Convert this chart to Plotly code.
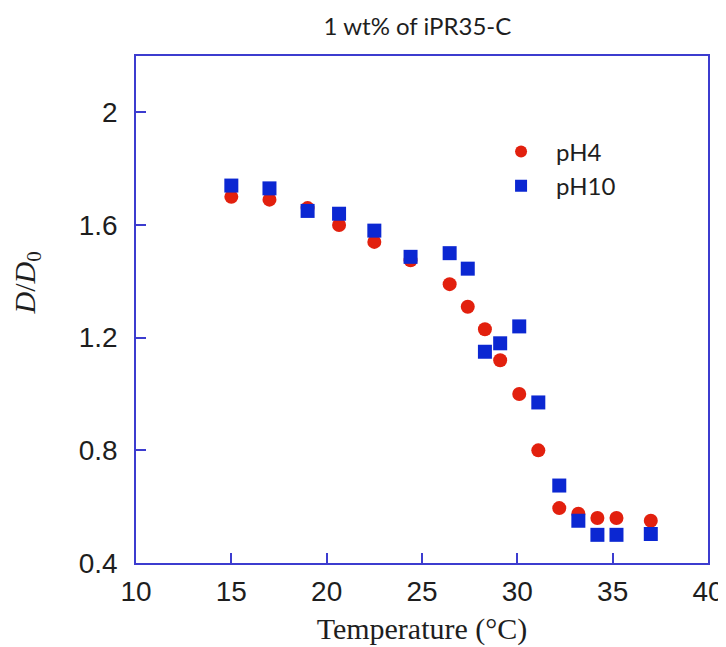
import plotly.graph_objects as go

# temperatures (°C) and normalised diameter D/D0
temp = [15, 17, 19, 20.65, 22.5, 24.4, 26.45, 27.4, 28.3, 29.1, 30.1, 31.1, 32.2, 33.2, 34.2, 35.2, 37.0]
ph4 = [1.70, 1.69, 1.66, 1.60, 1.54, 1.475, 1.39, 1.31, 1.23, 1.12, 1.00, 0.80, 0.595, 0.575, 0.56, 0.56, 0.55]
ph10 = [1.74, 1.73, 1.65, 1.64, 1.58, 1.487, 1.50, 1.445, 1.15, 1.18, 1.24, 0.97, 0.675, 0.55, 0.50, 0.50, 0.503]

x_ticks = [10, 15, 20, 25, 30, 35, 40]
y_ticks = [0.4, 0.8, 1.2, 1.6, 2.0]
y_tick_text = ["0.4", "0.8", "1.2", "1.6", "2"]

frame = "#3c3ccf"
red = "#e2200e"
blue = "#0b27d2"
ink = "#1e1e1e"

fig = go.Figure()
fig.add_trace(go.Scatter(
    x=temp, y=ph4, mode="markers", name="pH4",
    marker=dict(symbol="circle", size=14, color=red),
))
fig.add_trace(go.Scatter(
    x=temp, y=ph10, mode="markers", name="pH10",
    marker=dict(symbol="square", size=14, color=blue),
))

fig.update_layout(
    width=726, height=647,
    paper_bgcolor="white", plot_bgcolor="white",
    margin=dict(l=128, r=26, t=48, b=92),
    title=dict(text="1 wt% of iPR35-C", x=0.564, xanchor="center", y=0.971, yanchor="middle",
               font=dict(family="Lato", size=24, color=ink)),
    showlegend=True,
    legend=dict(x=0.612, y=0.855, xanchor="left", yanchor="top",
                font=dict(family="Lato", size=24, color=ink),
                bgcolor="rgba(0,0,0,0)", itemsizing="constant", itemwidth=60,
                tracegroupgap=0),
    xaxis=dict(
        range=[10, 40], tickvals=x_ticks, showgrid=False, zeroline=False, automargin=False,
        showline=True, linecolor=frame, linewidth=1.5, mirror=True,
        ticks="inside", ticklen=10, tickcolor=frame, tickwidth=1.5,
        tickfont=dict(family="Liberation Sans", size=28, color=ink),
        ticklabelstandoff=3,
        title=dict(text="Temperature (°C)", font=dict(family="Liberation Serif", size=30, color=ink), standoff=12),
    ),
    yaxis=dict(
        range=[0.4, 2.2], tickvals=y_ticks, ticktext=y_tick_text, showgrid=False, zeroline=False,
        automargin=False,
        showline=True, linecolor=frame, linewidth=1.5, mirror=True,
        ticks="inside", ticklen=10, tickcolor=frame, tickwidth=1.5,
        tickfont=dict(family="Liberation Sans", size=28, color=ink),
        ticklabelstandoff=11,
    ),
)

# y-axis title placed by hand so it can sit further out than the axis title allows
fig.add_annotation(
    text="<i>D</i>/<i>D</i><sub>0</sub>", textangle=-90,
    xref="paper", yref="paper", x=-0.19, y=0.552, xanchor="center", yanchor="middle",
    showarrow=False, font=dict(family="Liberation Serif", size=30, color=ink),
)

fig.write_html("out.html")
